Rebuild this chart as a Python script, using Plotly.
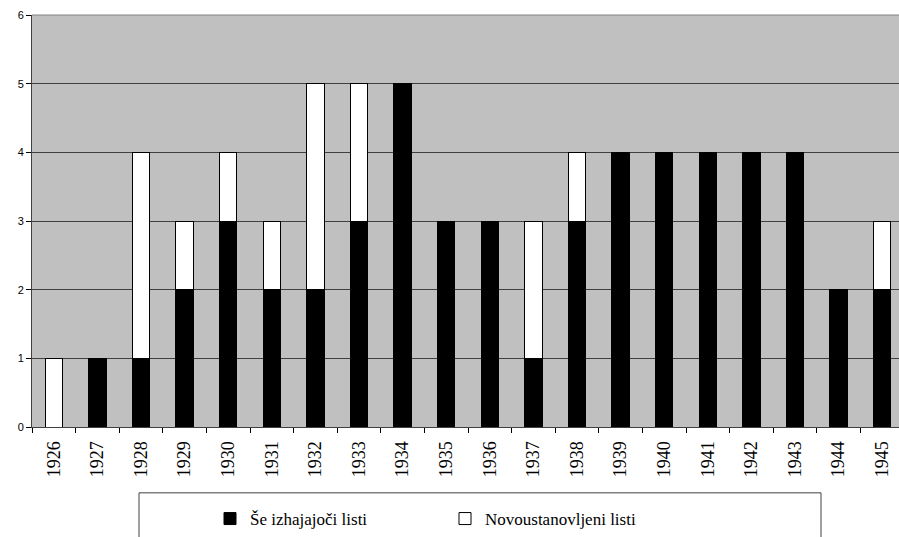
import plotly.graph_objects as go

# Yearly counts of periodicals
years = ["1926", "1927", "1928", "1929", "1930", "1931", "1932", "1933", "1934", "1935",
         "1936", "1937", "1938", "1939", "1940", "1941", "1942", "1943", "1944", "1945"]
continuing = [0, 1, 1, 2, 3, 2, 2, 3, 5, 3, 3, 1, 3, 4, 4, 4, 4, 4, 2, 2]
new_titles = [1, 0, 3, 1, 1, 1, 3, 2, 0, 0, 0, 2, 1, 0, 0, 0, 0, 0, 0, 1]

series_names = ["Še izhajajoči listi", "Novoustanovljeni listi"]

SERIF = "Times New Roman, Liberation Serif, DejaVu Serif, serif"
SANS = "Arial, Liberation Sans, sans-serif"

W, H = 899, 537
L, T, B = 32, 15, 109
plot_w = W - L
plot_h = H - T - B

fig = go.Figure()
fig.add_trace(go.Bar(
    x=years, y=continuing, name=series_names[0],
    marker=dict(color="black", line=dict(color="black", width=1)),
))
fig.add_trace(go.Bar(
    x=years, y=new_titles, name=series_names[1],
    marker=dict(color="white", line=dict(color="black", width=1)),
))

def px_x(p):
    return (p - L) / plot_w

def px_y(p):
    return (H - B - p) / plot_h

# legend frame
fig.add_shape(type="rect", xref="paper", yref="paper",
              x0=px_x(139), x1=px_x(821), y0=px_y(494), y1=px_y(560),
              line=dict(color="#404040", width=1), fillcolor="white", layer="below")
# lighter top edge of the plot area
fig.add_shape(type="line", xref="paper", yref="paper",
              x0=0, x1=1, y0=1, y1=1,
              line=dict(color="#808080", width=1), layer="above")

fig.update_layout(
    width=W, height=H,
    margin=dict(l=L, r=0, t=T, b=B),
    barmode="stack",
    bargap=0.6,
    plot_bgcolor="#C0C0C0",
    paper_bgcolor="white",
    showlegend=True,
    legend=dict(
        orientation="h",
        x=px_x(210), xanchor="left",
        y=px_y(520), yanchor="middle",
        font=dict(family=SERIF, size=17, color="black"),
        bgcolor="rgba(0,0,0,0)",
        entrywidth=190, entrywidthmode="pixels",
        traceorder="normal",
    ),
    xaxis=dict(
        type="category",
        range=[-0.5, -0.5 + plot_w / 43.6],
        tickson="boundaries",
        ticks="outside", ticklen=5, tickcolor="black",
        tickangle=-90,
        ticklabelstandoff=6,
        tickfont=dict(family=SERIF, size=18, color="black"),
        showline=True, linecolor="#404040", linewidth=1,
        showgrid=False,
    ),
    yaxis=dict(
        range=[0, 6],
        dtick=1,
        ticks="outside", ticklen=5, tickcolor="black",
        tickfont=dict(family=SANS, size=11, color="black"),
        showline=True, linecolor="#404040", linewidth=1,
        gridcolor="#404040", gridwidth=1,
        zeroline=False,
    ),
)

fig.write_html("out.html")
